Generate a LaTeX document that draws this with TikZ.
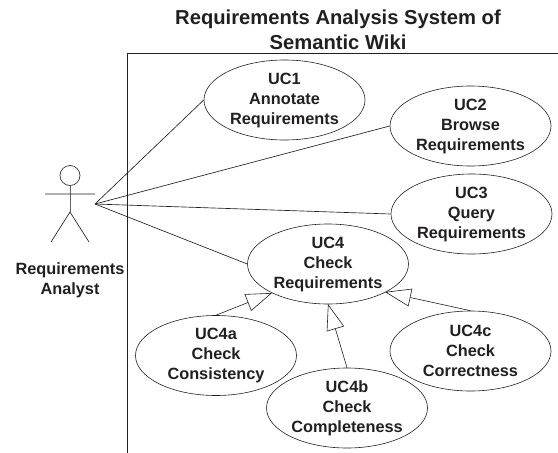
\documentclass[tikz,border=0pt]{standalone}
\usepackage{fontspec}
\setmainfont{Liberation Sans}
\usetikzlibrary{shapes.geometric,arrows.meta}
\definecolor{ink}{HTML}{231F20}
\tikzset{
  x=1pt,y=-1pt,
  uc/.style={ellipse,draw=ink,line width=0.6pt,fill=white,inner sep=0pt,align=center,text=ink,font=\fontsize{16.3}{20}\selectfont\bfseries,minimum width=161pt,minimum height=80pt},
  lnk/.style={draw=ink,line width=0.65pt},
  gen/.style={draw=ink,line width=0.6pt,-{Triangle[open,length=26pt,width=18pt,fill=white]}},
  lab/.style={align=center,text=ink,font=\fontsize{16.3}{20}\selectfont\bfseries,inner sep=0pt}
}
\begin{document}
\begin{tikzpicture}
\useasboundingbox (0,0) rectangle (558,453);
\fill[white] (0,0) rectangle (558,453);
\node[lab,font=\fontsize{20.2}{25.5}\selectfont\bfseries] (title) at (338,30) {Requirements Analysis System of\\Semantic Wiki};
\coordinate (bl) at (127.5,453);
\coordinate (tl) at (127.5,53);
\coordinate (tr) at (558,53);
\draw[draw=ink,line width=0.8pt] (bl) -- (tl) -- (tr);
\coordinate (hand) at (95,204);
\node[uc] (uc1) at (284.5,100) {UC1\\Annotate\\Requirements};
\node[uc] (uc2) at (470.5,126) {UC2\\Browse\\Requirements};
\node[uc] (uc3) at (471.5,214) {UC3\\Query\\Requirements};
\node[uc] (uc4) at (328,264) {UC4\\Check\\Requirements};
\node[uc] (uc4a) at (216,355.5) {UC4a\\Check\\Consistency};
\node[uc] (uc4b) at (347,408) {UC4b\\Check\\Completeness};
\node[uc] (uc4c) at (470.5,351) {UC4c\\Check\\Correctness};
\draw[lnk] (hand) -- (uc1.west);
\draw[lnk] (hand) -- (uc2.west);
\draw[lnk] (hand) -- (uc3.west);
\draw[lnk] (hand) -- (uc4.west);
\coordinate (tipa) at (272,293);
\coordinate (tipb) at (328,304);
\coordinate (tipc) at (385,292);
\draw[gen] (uc4a.north) -- (tipa);
\draw[gen] (uc4b.north) -- (tipb);
\draw[gen] (uc4c.north) -- (tipc);
% actor
\draw[draw=ink,line width=0.6pt] (70,175.5) circle (10);
\draw[draw=ink!70,line width=1pt] (70,185.5) -- (70,212);
\draw[draw=ink,line width=0.65pt] (45,194) -- (95,194) (51,242) -- (70,212) -- (89,242);
\node[lab] (actor) at (70,280) {Requirements\\Analyst};
\end{tikzpicture}
\end{document}
